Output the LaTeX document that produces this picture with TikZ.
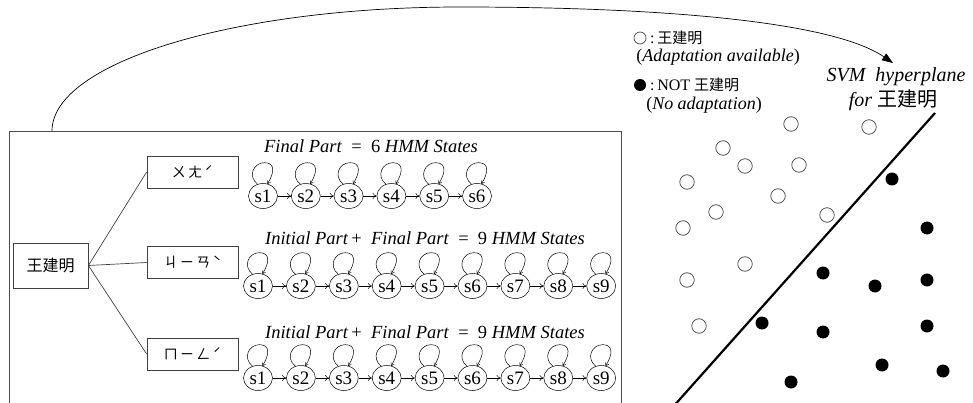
\documentclass[tikz,border=0pt]{standalone}
\usepackage{fontspec}
\setmainfont{Liberation Serif}
\newfontfamily\cjk{Noto Sans CJK TC}
\usetikzlibrary{shapes.geometric,arrows.meta}

\begin{document}
\begin{tikzpicture}[x=1pt,y=1pt,
  panelbox/.style={draw=black!70, line width=0.9pt, minimum width=612pt, minimum height=300pt, inner sep=0pt, anchor=north west},
  wordbox/.style={draw=black!75, line width=0.8pt, minimum width=75pt, minimum height=45pt, inner sep=0pt, font=\cjk\fontsize{16}{16}\selectfont},
  syllbox/.style={draw=black!75, line width=0.8pt, minimum width=91pt, minimum height=32pt, inner sep=0pt, font=\cjk\fontsize{14}{14}\selectfont},
  branch/.style={draw=black!75, line width=0.7pt},
  state/.style={ellipse, draw, line width=0.5pt, minimum width=29pt, minimum height=25pt, inner sep=0pt, font=\fontsize{19}{19}\selectfont},
  trans/.style={-{To[length=4pt,width=6pt]}, line width=0.5pt},
  selfloop/.style={-{To[length=3pt,width=4pt]}, line width=0.5pt},
  chaintitle/.style={font=\fontsize{18.5}{19}\selectfont, inner sep=0pt},
  opendot/.style={circle, draw=black!75, line width=0.7pt, minimum size=14.5pt, inner sep=0pt},
  fulldot/.style={circle, fill=black, minimum size=13pt, inner sep=0pt},
  legendtext/.style={font=\fontsize{16}{16}\selectfont, inner sep=0pt, anchor=west},
  legendnote/.style={font=\fontsize{18}{18}\selectfont, inner sep=0pt},
  svmlabel/.style={font=\fontsize{20}{20}\selectfont\itshape, inner sep=0pt},
  hyper/.style={line width=2.2pt}
]
\useasboundingbox (0,0) rectangle (973,-403);

% panel holding the word and its HMMs
\node[panelbox] (panel) at (9,-131) {};

% word and its three syllables
\node[wordbox] (word) at (50.5,-265.5) {王建明};
\node[syllbox] (syA) at (192.5,-172) {ㄨ\,ㄤ\,ˊ};
\node[syllbox] (syB) at (192.5,-262.5) {ㄐ\,ㄧ\,ㄢ\,ˋ};
\node[syllbox] (syC) at (192.5,-354) {ㄇ\,ㄧ\,ㄥ\,ˊ};
\draw[branch] (word.east) -- (syA.west);
\draw[branch] (word.east) -- (syB.west);
\draw[branch] (word.east) -- (syC.west);

% chain titles
\node[chaintitle] (ta) at (371,-146) {\textit{Final Part}\ \ =\ \ 6 \textit{HMM States}};
\node[chaintitle] (tb) at (425,-238) {\textit{Initial Part}\,+\ \ \textit{Final Part}\ \ =\ \ 9 \textit{HMM States}};
\node[chaintitle] (tc) at (425,-332) {\textit{Initial Part}\,+\ \ \textit{Final Part}\ \ =\ \ 9 \textit{HMM States}};

% self-transition drawn as a round loop sitting on top of a state
\newcommand\selfarc[1]{%
  \draw[selfloop] (#1.115) .. controls +(-10,8) and +(-11,0) .. ++(7,21.5)
    .. controls +(11,0) and +(7,11) .. (#1.70);}

% HMM chain: 6 states
\foreach \i in {1,...,6}
  \node[state] (a\i) at ({263+42.8*(\i-1)},-196) {s\i};
\foreach \i [count=\j from 2] in {1,...,5}
  \draw[trans] (a\i) -- (a\j);
\foreach \i in {1,...,6} {\selfarc{a\i}}

% HMM chains: 9 states
\foreach \i in {1,...,9} {
  \node[state] (b\i) at ({258+42.9*(\i-1)},-286) {s\i};
  \node[state] (c\i) at ({258+42.9*(\i-1)},-378) {s\i};
}
\foreach \i [count=\j from 2] in {1,...,8} {
  \draw[trans] (b\i) -- (b\j);
  \draw[trans] (c\i) -- (c\j);
}
\foreach \i in {1,...,9} {
  \selfarc{b\i}
  \selfarc{c\i}
}

% legend
\node[opendot, minimum size=12pt] (lgo) at (640,-38) {};
\node[legendtext] (lgot) at (650,-38) {:\,{\cjk\fontsize{15}{15}\selectfont 王建明}};
\node[legendnote] (lgon) at (718,-57) {(\textit{Adaptation available})};
\node[fulldot, minimum size=12pt] (lgf) at (640,-85) {};
\node[legendtext] (lgft) at (650,-85) {:\,NOT {\cjk\fontsize{15}{15}\selectfont 王建明}};
\node[legendnote] (lgfn) at (704,-105) {(\textit{No adaptation})};

% separating hyperplane
\node[svmlabel] (svm) at (896,-77) {SVM\ \ hyperplane};
\node[svmlabel] (svmfor) at (893,-100) {for {\upshape\cjk 王建明}};
\coordinate (hpA) at (935,-113);
\coordinate (hpB) at (672,-408);
\draw[hyper] (hpA) -- (hpB);

% link from the word to its classifier
\coordinate (arcfrom) at (52,-131);
\coordinate (arcto) at (893,-63);
\draw[line width=0.7pt, -{Triangle[length=11pt,width=8pt]}]
  (arcfrom) arc[start angle=180, end angle=90, x radius=408, y radius=124]
  .. controls +(190,0) and (830,-20) .. (arcto);

% samples of the word
\foreach \p [count=\k] in {(791,-124),(869,-127),(723,-148),(745,-166),(799,-165),(687,-182),(778,-196),(716,-212),(827,-215),(683,-228),(745,-264),(687,-280),(699,-326)}
  \node[opendot] (pos\k) at \p {};
% samples of other words
\foreach \p [count=\k] in {(892,-179),(927,-228),(823,-273),(875,-286),(927,-280),(762,-323),(823,-332),(927,-326),(882,-365),(943,-371),(791,-382)}
  \node[fulldot] (neg\k) at \p {};
\end{tikzpicture}
\end{document}
